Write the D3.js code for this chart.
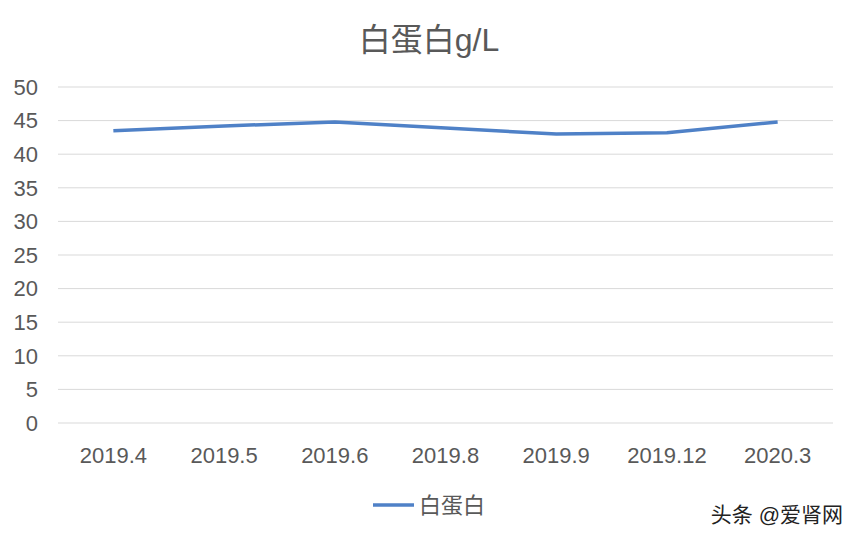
<!DOCTYPE html>
<html><head><meta charset="utf-8">
<script src="https://cdn.jsdelivr.net/npm/d3@7"></script>
<style>body{margin:0;background:#fff}text{font-family:"Liberation Sans","Noto Sans CJK SC",sans-serif}</style>
</head><body><div id="chart"></div>
<script>
// chart data
const categories = ["2019.4","2019.5","2019.6","2019.8","2019.9","2019.12","2020.3"];
const albumin = [43.5, 44.2, 44.8, 43.9, 43.0, 43.2, 44.8];
const yTicks = [0,5,10,15,20,25,30,35,40,45,50];

const W = 858, H = 540;
const margin = {top: 87, right: 25, bottom: 117, left: 58};
const width = W - margin.left - margin.right;
const height = H - margin.top - margin.bottom;

const svg = d3.select("#chart").append("svg").attr("width", W).attr("height", H);
const g = svg.append("g").attr("transform", `translate(${margin.left},${margin.top})`);

const x = d3.scaleBand().domain(categories).range([0, width]);
const y = d3.scaleLinear().domain([0, 50]).range([height, 0]);

// gridlines
g.selectAll(".grid").data(yTicks).enter().append("line")
    .attr("x1", 0).attr("x2", width)
    .attr("y1", d => y(d)).attr("y2", d => y(d))
    .attr("stroke", "#d9d9d9").attr("stroke-width", 1);

// y labels
g.selectAll(".ylab").data(yTicks).enter().append("text")
    .attr("x", -20).attr("y", d => y(d)).attr("dy", "0.35em")
    .attr("text-anchor", "end").style("font-size", "22px").style("fill", "#595959")
    .text(d => d);

// x labels
g.selectAll(".xlab").data(categories).enter().append("text")
    .attr("x", d => x(d) + x.bandwidth() / 2).attr("y", height + 40)
    .attr("text-anchor", "middle").style("font-size", "22px").style("fill", "#595959")
    .text(d => d);

const line = d3.line()
    .x((d, i) => x(categories[i]) + x.bandwidth() / 2)
    .y(d => y(d));

g.append("path").datum(albumin)
    .attr("fill", "none").attr("stroke", "#4f81c7")
    .attr("stroke-width", 3.5).attr("stroke-linejoin", "round")
    .attr("d", line);

// title
svg.append("text").attr("x", 429).attr("y", 51).attr("text-anchor", "middle")
    .style("font-size", "32px").style("fill", "#595959").text("白蛋白g/L");

// legend
svg.append("line").attr("x1", 373).attr("x2", 414).attr("y1", 505).attr("y2", 505)
    .attr("stroke", "#4f81c7").attr("stroke-width", 3.5);
svg.append("text").attr("x", 419).attr("y", 505).attr("dy", "0.35em")
    .style("font-size", "22px").style("fill", "#595959").text("白蛋白");

// watermark
svg.append("text").attr("x", 843).attr("y", 522).attr("text-anchor", "end")
    .style("font-size", "21px").style("fill", "#222").text("头条 @爱肾网");
</script></body></html>
